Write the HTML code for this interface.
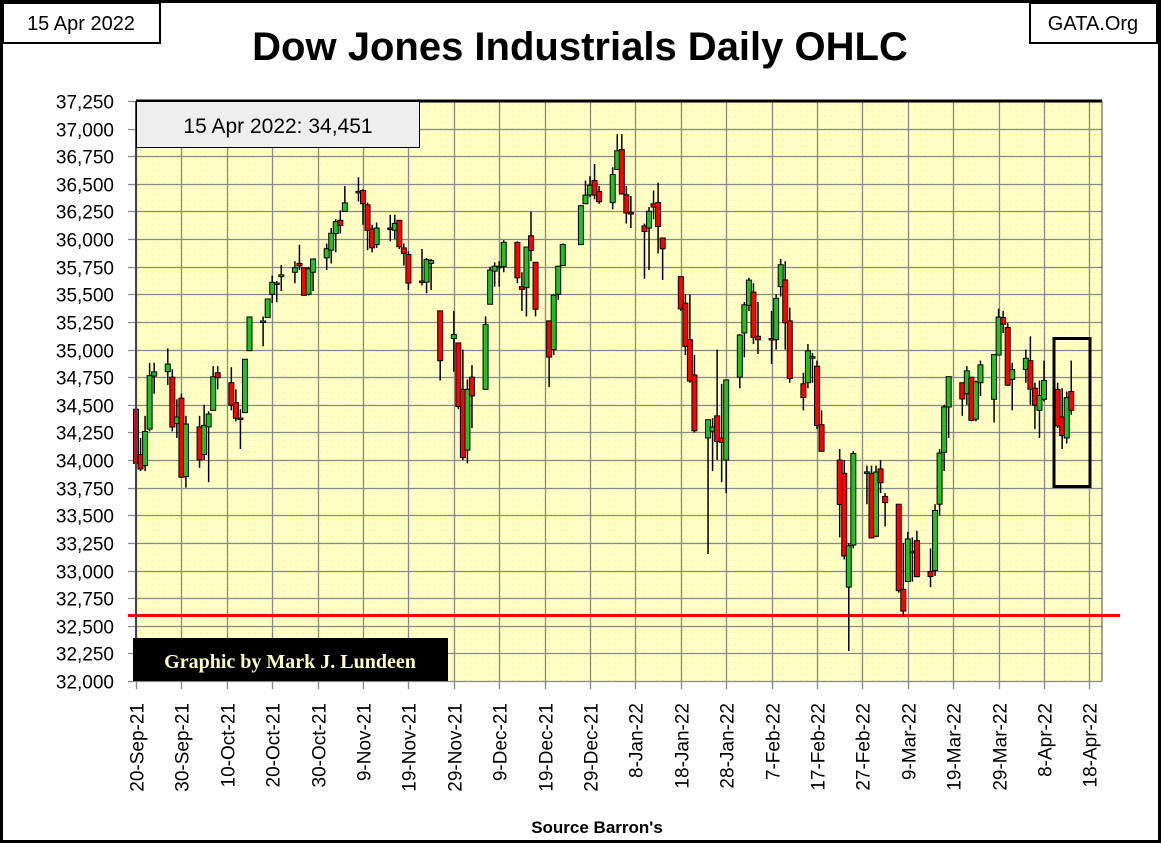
<!DOCTYPE html>
<html><head><meta charset="utf-8"><style>
html,body{margin:0;padding:0;background:#fff;}
body{width:1161px;height:843px;overflow:hidden;position:relative;font-family:"Liberation Sans",sans-serif;}
</style></head><body>
<svg id="chart" width="1161" height="843" xmlns="http://www.w3.org/2000/svg" style="position:absolute;left:0;top:0">
<defs>
<pattern id="dots" width="6" height="6" patternUnits="userSpaceOnUse"><rect width="6" height="6" fill="#ffffc6"/><rect x="2" y="2" width="1" height="1" fill="#f2f09a"/></pattern>
</defs>
<rect x="1.5" y="1.5" width="1158" height="840" fill="#fff" stroke="#000" stroke-width="3"/>
<rect x="136" y="101" width="966" height="580" fill="url(#dots)"/>
<g id="grid"></g>
<g id="ylabels"></g>
<g id="xlabels"></g>
<line x1="128" y1="615.5" x2="1120" y2="615.5" stroke="#ff0000" stroke-width="3"/>
<g id="candles"></g>
<rect x="1054" y="338.5" width="36" height="148" fill="none" stroke="#000" stroke-width="3"/>
<line x1="136" y1="101" x2="1102" y2="101" stroke="#000" stroke-width="3"/>
<line x1="136" y1="101" x2="136" y2="681" stroke="#444" stroke-width="2"/>
<line x1="1102" y1="101" x2="1102" y2="681" stroke="#444" stroke-width="1"/>
<rect x="136.5" y="101.5" width="283" height="46" fill="#eeeeee" stroke="#000" stroke-width="1"/>
<text x="278" y="133" font-size="21" text-anchor="middle" fill="#000">15 Apr 2022: 34,451</text>
<rect x="133" y="638" width="315" height="43" fill="#000"/>
<text x="290" y="668" font-family="Liberation Serif, serif" font-weight="bold" font-size="20" fill="#ffffc0" text-anchor="middle">Graphic by Mark J. Lundeen</text>
<text x="580" y="60" font-size="40" font-weight="bold" text-anchor="middle" fill="#000">Dow Jones Industrials Daily OHLC</text>
<rect x="3" y="3" width="157" height="40" fill="#fff" stroke="#000" stroke-width="2"/>
<text x="81" y="30" font-size="20" text-anchor="middle">15 Apr 2022</text>
<rect x="1030" y="3" width="127" height="40" fill="#fff" stroke="#000" stroke-width="2"/>
<text x="1093" y="30" font-size="20" text-anchor="middle">GATA.Org</text>
<text x="597" y="833" font-size="17" font-weight="bold" text-anchor="middle">Source Barron's</text>
</svg>
<script>
const yTicks=[32000,32250,32500,32750,33000,33250,33500,33750,34000,34250,34500,34750,35000,35250,35500,35750,36000,36250,36500,36750,37000,37250];
const xTickLabels=["20-Sep-21","30-Sep-21","10-Oct-21","20-Oct-21","30-Oct-21","9-Nov-21","19-Nov-21","29-Nov-21","9-Dec-21","19-Dec-21","29-Dec-21","8-Jan-22","18-Jan-22","28-Jan-22","7-Feb-22","17-Feb-22","27-Feb-22","9-Mar-22","19-Mar-22","29-Mar-22","8-Apr-22","18-Apr-22"];
const dayIndex=[0,1,2,3,4,7,8,9,10,11,14,15,16,17,18,21,22,23,24,25,28,29,30,31,32,35,36,37,38,39,42,43,44,45,46,49,50,51,52,53,56,57,58,59,60,63,64,65,67,70,71,72,73,74,77,78,79,80,81,84,85,86,87,88,91,92,93,94,98,99,100,101,102,105,106,107,108,109,112,113,114,115,116,120,121,122,123,126,127,128,129,130,133,134,135,136,137,140,141,142,143,144,147,148,149,150,151,155,156,157,158,161,162,163,164,165,168,169,170,171,172,175,176,177,178,179,182,183,184,185,186,189,190,191,192,193,196,197,198,199,200,203,204,205,206];
const opens=[34460,34050,33950,34280,34760,34800,34750,34330,34560,33850,34300,34050,34300,34450,34790,34700,34520,34380,34430,34990,35250,35290,35500,35600,35660,35700,35780,35740,35500,35700,35830,35900,36050,36170,36250,36420,36440,36310,36090,35950,36100,36080,36170,35920,35860,35620,35610,35780,35350,35100,35060,34640,34090,34750,34640,35410,35710,35750,35750,35970,35570,35560,36030,35790,35260,35000,35500,35760,35950,36320,36400,36530,36430,36330,36630,36810,36400,36240,36120,36100,36320,36330,36010,35660,35420,35090,34770,34200,34260,34400,34200,34000,34750,35150,35400,35520,35120,35100,35090,35570,35630,35260,34690,34700,34930,34850,34320,34000,33880,32850,33230,33880,33880,33310,33920,33670,33600,32830,32900,33170,33270,32990,33000,33600,34070,34480,34700,34600,34750,34370,34700,34550,34950,35290,35200,34730,34820,34900,34650,34450,34550,34640,34390,34200,34620];
const highs=[34460,34200,34400,34880,34880,35010,34820,34550,34600,34400,34400,34500,34440,34850,34850,34840,34640,34460,34910,35300,35300,35460,35670,35620,35765,35800,35950,35740,35750,35820,35960,36100,36180,36260,36480,36560,36450,36330,36130,36150,36220,36220,36170,35960,35890,35910,35830,35820,35350,35350,35060,35000,34730,34860,35300,35750,35790,35800,35990,35980,35700,35930,36250,35790,35200,35500,35760,35960,36310,36530,36570,36680,36480,36650,36950,36950,36480,36390,36140,36290,36440,36510,36010,35660,35500,35500,34950,34360,34380,35000,34690,34730,35140,35430,35650,35600,35430,35350,35500,35820,35800,35380,34790,35050,34970,34900,34450,34100,34000,33250,34080,33950,33950,33950,34000,33700,33600,33250,33350,33300,33360,33200,33600,34100,34500,34760,34700,34850,34750,34720,34900,34940,35370,35350,35240,34880,35000,35120,34700,34720,34900,34700,34650,34620,34900];
const lows=[33610,33900,33900,34260,34600,34680,34260,34200,33840,33750,33930,34000,33800,34450,34640,34450,34350,34100,34430,34990,35030,35290,35420,35430,35530,35600,35720,35490,35490,35530,35720,35780,35880,36050,36250,36340,36130,35900,35880,35920,35980,36000,35910,35760,35540,35580,35510,35540,34720,34800,34460,34000,33970,34290,34640,35410,35570,35570,35700,35600,35350,35300,35800,35300,34660,34950,35450,35760,35950,36320,36380,36360,36320,36270,36630,36410,36140,36100,35640,35720,36180,35870,35630,35350,34950,34700,34250,33150,33900,34000,33800,33700,34650,34930,35350,35050,34960,34870,35000,35480,35000,34700,34450,34650,34700,34280,34080,33300,33100,32272,33200,33600,33300,33300,33700,33400,32800,32580,32900,32900,32950,32850,32950,33500,33900,34200,34400,34500,34350,34350,34580,34340,34950,35150,34670,34450,34700,34500,34280,34200,34530,34290,34100,34150,34410];
const closes=[33970,33919,34258,34764,34798,34869,34299,34390,33844,34326,34002,34314,34417,34754,34746,34496,34378,34377,34912,35295,35259,35458,35609,35603,35677,35741,35757,35491,35731,35820,35913,36053,36158,36124,36328,36432,36320,36080,35921,36100,36087,36142,35931,35871,35602,35619,35814,35805,34899,35136,34484,34022,34640,34580,35227,35720,35755,35754,35971,35650,35545,35928,35898,35365,34932,35493,35754,35951,36302,36398,36488,36398,36338,36585,36800,36408,36236,36232,36069,36252,36290,36114,35912,35369,35029,34715,34265,34365,34298,34168,34160,34725,35132,35405,35629,35111,35089,35092,35463,35768,35242,34738,34566,34989,34935,34312,34079,33597,33132,33224,34059,33893,33295,33891,33795,33615,32818,32633,33286,33174,32944,32946,33544,34063,34481,34755,34553,34808,34359,34708,34862,34955,35294,35229,34678,34818,34921,34641,34497,34584,34721,34309,34221,34565,34451];

const NS="http://www.w3.org/2000/svg";
const X0=136,PX_PER_DAY=4.54,Y0=681,YMIN=32000,PX_PER_UNIT=580/5250;
function xScale(d){return X0+d*PX_PER_DAY;}
function yScale(v){return Y0-(v-YMIN)*PX_PER_UNIT;}
function mk(tag,attrs,parent){const e=document.createElementNS(NS,tag);for(const k in attrs)e.setAttribute(k,attrs[k]);parent.appendChild(e);return e;}
const grid=document.getElementById('grid'),yl=document.getElementById('ylabels'),xl=document.getElementById('xlabels'),cg=document.getElementById('candles');
yTicks.forEach(v=>{const y=Math.round(yScale(v))+0.5;
 const g=mk('line',{x1:128,x2:1102,y1:y,y2:y,stroke:'#888','stroke-width':1.3},grid);
 
 
 const t=mk('text',{x:114,y:y+7,'font-size':19,'text-anchor':'end',fill:'#000'},yl);
 
 
 t.textContent=v.toLocaleString('en-US');});
xTickLabels.forEach((s,i)=>{const x=Math.round(xScale(i*10))+0.5;
 const g=mk('line',{x1:x,x2:x,y1:101,y2:689,stroke:'#888','stroke-width':1.3},grid);
 
 
 const t=mk('text',{x:0,y:0,'font-size':19,'text-anchor':'end',fill:'#000',transform:'translate('+(x+7)+',703) rotate(-90)'},xl);
 
 
 t.textContent=s;});
dayIndex.forEach((d,i)=>{const x=xScale(d);const o=opens[i],c=closes[i];
 const w=mk('line',{x1:x,x2:x,y1:yScale(highs[i]),y2:yScale(lows[i]),stroke:'#000','stroke-width':1.5},cg);
 
 
 const top=yScale(Math.max(o,c)),bot=yScale(Math.min(o,c));
 const r=mk('rect',{x:x-2.5,y:top,width:5,height:Math.max(1.5,bot-top),fill:c>=o?'#22c022':'#ff0000',stroke:'#000','stroke-width':1},cg);
 
 });
</script>
</body></html>
